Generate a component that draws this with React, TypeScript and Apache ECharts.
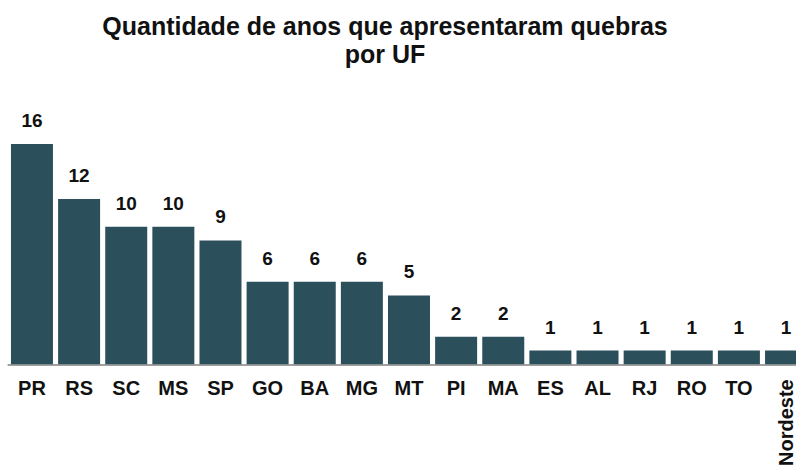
import React, { useEffect, useRef } from "react";
import * as echarts from "echarts";

const categories = ["PR", "RS", "SC", "MS", "SP", "GO", "BA", "MG", "MT", "PI", "MA", "ES", "AL", "RJ", "RO", "TO", "Nordeste"];
const values = [16, 12, 10, 10, 9, 6, 6, 6, 5, 2, 2, 1, 1, 1, 1, 1, 1];
const rotatedCategory = "Nordeste";
const titleLines = ["Quantidade de anos que apresentaram quebras", "por UF"];

export default function App() {
  const ref = useRef<HTMLDivElement>(null);
  useEffect(() => {
    document.body.style.margin = "0";
    const chart = echarts.init(ref.current!, null, { renderer: "svg" });
    const font = "'Liberation Sans', Arial, sans-serif";
    chart.setOption({
      animation: false,
      backgroundColor: "#ffffff",
      graphic: [
        {
          type: "text",
          x: 385,
          y: 12,
          style: {
            text: titleLines.join("\n"),
            fontFamily: font,
            fontWeight: "bold",
            fontSize: 25,
            lineHeight: 28,
            fill: "#111111",
            align: "center",
            verticalAlign: "top",
          },
        },
      ],
      grid: { left: 8.4, right: 2.4, top: 89, bottom: 103, containLabel: false },
      xAxis: [
        {
          type: "category",
          data: categories,
          position: "bottom",
          axisLine: { show: true, lineStyle: { color: "#a0a0a0", width: 2 } },
          axisTick: { show: false },
          axisLabel: {
            interval: 0,
            margin: 14,
            fontFamily: font,
            fontWeight: "bold",
            fontSize: 20,
            color: "#111111",
            formatter: (v: string) => (v === rotatedCategory ? "" : v),
          },
        },
        {
          type: "category",
          data: categories,
          position: "bottom",
          axisLine: { show: false },
          axisTick: { show: false },
          splitLine: { show: false },
          axisLabel: {
            interval: 0,
            rotate: 90,
            margin: 15,
            fontFamily: font,
            fontWeight: "bold",
            fontSize: 20,
            color: "#111111",
            formatter: (v: string) => (v === rotatedCategory ? v : ""),
          },
        },
      ],
      yAxis: {
        type: "value",
        min: 0,
        max: 20,
        show: false,
        splitLine: { show: false },
      },
      series: [
        {
          type: "bar",
          xAxisIndex: 0,
          data: values,
          barWidth: 42,
          itemStyle: { color: "#2c4f5c" },
          label: {
            show: true,
            position: "top",
            distance: 14,
            fontFamily: font,
            fontWeight: "bold",
            fontSize: 19,
            color: "#111111",
          },
        },
      ],
    });
    return () => chart.dispose();
  }, []);
  return (
    <div style={{ width: 796, height: 469, position: "absolute", left: 0, top: 0, overflow: "hidden" }}>
      <div ref={ref} style={{ width: 812, height: 469 }} />
    </div>
  );
}
